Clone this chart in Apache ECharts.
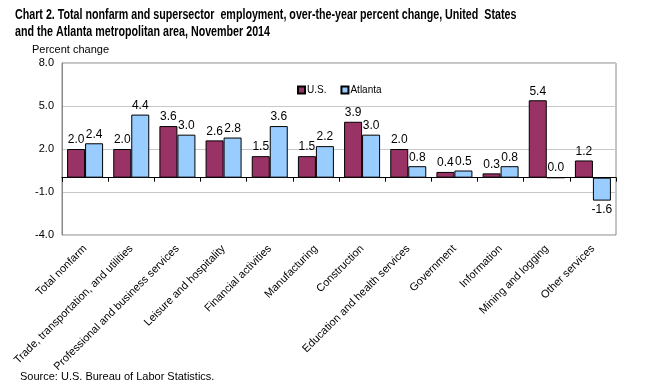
<!DOCTYPE html>
<html><head><meta charset="utf-8">
<script src="https://cdn.jsdelivr.net/npm/echarts@6/dist/echarts.min.js"></script>
<style>html,body{margin:0;padding:0;background:#fff}#c{width:652px;height:392px}</style>
</head><body><div id="c"></div>
<script>
const categories = ["Total nonfarm","Trade, transportation, and utilities","Professional and business services","Leisure and hospitality","Financial activities","Manufacturing","Construction","Education and health services","Government","Information","Mining and logging","Other services"];
const usValues = [2.0,2.0,3.6,2.6,1.5,1.5,3.9,2.0,0.4,0.3,5.4,1.2];
const atlantaValues = [2.4,4.4,3.0,2.8,3.6,2.2,3.0,0.8,0.5,0.8,0.0,-1.6];
const seriesNames = ["U.S.","Atlanta"];
const chart = echarts.init(document.getElementById('c'));
const lbl = {show:true, position:'top', distance:3, color:'#000', fontFamily:'Liberation Sans, Arial', fontSize:12, formatter:p=>p.value.toFixed(1)};
chart.setOption({
  animation:false,
  graphic:[{type:'text', left:15, top:6, scaleX:0.69, scaleY:1, originX:0, originY:0,
    style:{text:'Chart 2. Total nonfarm and supersector  employment, over-the-year percent change, United  States\nand the Atlanta metropolitan area, November 2014',
      font:'bold 15.5px "Liberation Sans", Arial, sans-serif', fill:'#000', lineHeight:17}}],
  title:[{text:'Source: U.S. Bureau of Labor Statistics.', left:15, top:366, textStyle:{fontFamily:'Liberation Sans, Arial', fontWeight:'normal', fontSize:11, color:'#000'}}],
  legend:{data:seriesNames, left:292, top:80, itemWidth:7, itemHeight:7, itemGap:14, icon:'rect',
    textStyle:{fontFamily:'Liberation Sans, Arial', fontSize:10, color:'#000', padding:[0,0,0,-3]}},
  grid:{left:62, right:36, top:63, bottom:157, show:true, borderColor:'#888', borderWidth:1},
  xAxis:{type:'category', data:categories, axisLine:{onZero:true, lineStyle:{color:'#000'}}, axisTick:{show:true, length:4, lineStyle:{color:'#000'}},
    axisLabel:{rotate:45, interval:0, fontFamily:'Liberation Sans, Arial', fontSize:11, color:'#000', margin:12}},
  yAxis:{type:'value', min:-4, max:8, interval:3, name:'Percent change', nameLocation:'end', nameGap:8,
    nameTextStyle:{fontFamily:'Liberation Sans, Arial', fontSize:11, color:'#000', align:'left', padding:[0,0,0,-30]},
    axisLine:{show:true, lineStyle:{color:'#888'}}, axisTick:{show:false},
    axisLabel:{formatter:v=>v.toFixed(1), fontFamily:'Liberation Sans, Arial', fontSize:11, color:'#000', margin:8},
    splitLine:{lineStyle:{color:'#c8c8c8'}}},
  series:[
    {name:seriesNames[0], type:'bar', data:usValues, barWidth:18, barGap:'0%', itemStyle:{color:'#993366', borderColor:'#000', borderWidth:1}, label:lbl},
    {name:seriesNames[1], type:'bar', data:atlantaValues.map(v => v < 0 ? {value:v, label:{position:'bottom'}} : v), barWidth:18,
      itemStyle:{color:'#99CCFF', borderColor:'#000', borderWidth:1}, label:lbl}
  ]
});
</script></body></html>
